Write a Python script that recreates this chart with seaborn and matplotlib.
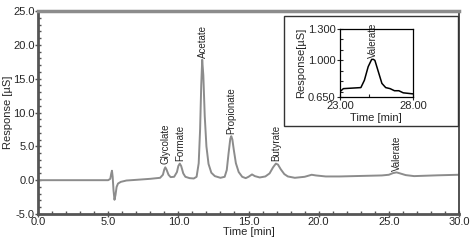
import numpy as np
import pandas as pd
import seaborn as sns
import matplotlib.pyplot as plt
from matplotlib.patches import Rectangle
from matplotlib.ticker import MultipleLocator, FixedLocator

# ------------------- Data -------------------
time_min = [0.0, 4.0, 5.0, 5.15, 5.22, 5.27, 5.32, 5.38, 5.45, 5.52, 5.6, 5.7, 5.9,
            6.3, 7.0, 8.0, 8.7, 8.9, 9.0, 9.07, 9.15, 9.3, 9.45, 9.7, 9.9, 10.0,
            10.1, 10.2, 10.35, 10.5, 10.8, 11.1, 11.3, 11.45, 11.55, 11.63, 11.7,
            11.78, 11.88, 12.0, 12.15, 12.35, 12.6, 13.0, 13.3, 13.45, 13.58, 13.7,
            13.77, 13.85, 13.95, 14.1, 14.3, 14.55, 14.8, 15.0, 15.25, 15.45, 15.8,
            16.2, 16.5, 16.75, 16.95, 17.1, 17.3, 17.55, 17.8, 18.3, 19.0, 19.5,
            19.8, 20.5, 21.5, 22.5, 23.5, 24.5, 25.0, 25.3, 25.55, 25.8, 26.2,
            26.8, 27.5, 28.5, 30.0]
response = [0.0, 0.0, 0.0, 0.2, 1.0, 1.4, 0.5, -1.5, -2.9, -2.2, -1.0, -0.5, -0.25,
            -0.05, 0.05, 0.2, 0.35, 0.8, 1.6, 1.9, 1.6, 0.8, 0.45, 0.5, 1.2, 2.1,
            2.45, 2.1, 1.0, 0.5, 0.3, 0.25, 0.5, 2.5, 7.5, 14.0, 17.8,
            15.5, 9.5, 5.0, 2.4, 1.1, 0.6, 0.35, 0.5, 1.5, 4.0, 6.1,
            6.5, 6.0, 4.5, 2.5, 1.2, 0.5, 0.3, 0.5, 0.85, 0.6, 0.4,
            0.55, 1.0, 1.9, 2.45, 2.3, 1.6, 0.9, 0.55, 0.35, 0.5, 0.8,
            0.7, 0.55, 0.55, 0.6, 0.65, 0.7, 0.8, 1.05, 1.15, 1.0, 0.75,
            0.6, 0.65, 0.72, 0.8]

peak_names = ['Glycolate', 'Formate', 'Acetate', 'Propionate', 'Butyrate', 'Valerate']
peak_times = [9.1, 10.12, 11.76, 13.8, 17.0, 25.6]
label_base = [2.4, 2.9, 18.0, 6.8, 2.8, 1.3]

# zoomed valerate region
inset_time = [23.0, 23.24, 24.44, 24.68, 24.94, 25.18, 25.3, 25.4, 25.64, 25.88,
              26.14, 26.44, 26.74, 27.04, 27.34, 28.0]
inset_resp = [0.70, 0.73, 0.74, 0.81, 0.94, 1.01, 1.01, 1.0, 0.89, 0.78,
              0.74, 0.73, 0.71, 0.71, 0.69, 0.68]

df = pd.DataFrame({'time': time_min, 'resp': response})
dfi = pd.DataFrame({'time': inset_time, 'resp': inset_resp})

# ------------------- Plot -------------------
sns.set_style('ticks')
plt.rcParams['font.family'] = ['Liberation Sans', 'DejaVu Sans']

fig = plt.figure(figsize=(4.74, 2.41), dpi=100)
ax = fig.add_axes([0.0802, 0.112, 0.8882, 0.8423])
sns.lineplot(data=df, x='time', y='resp', ax=ax, color='#8c8c8c', linewidth=1.4)

ax.set_xlim(0, 30)
ax.set_ylim(-5, 25)
ax.xaxis.set_major_locator(MultipleLocator(5))
ax.xaxis.set_minor_locator(MultipleLocator(1))
ax.yaxis.set_major_locator(MultipleLocator(5))
ax.yaxis.set_minor_locator(MultipleLocator(1))
ax.xaxis.set_major_formatter(lambda v, p: f'{v:.1f}')
ax.yaxis.set_major_formatter(lambda v, p: f'{v:.1f}')
ax.tick_params(which='both', bottom=True, left=True, top=False, right=False)
ax.tick_params(which='major', direction='inout', length=4, width=1, labelsize=8,
               color='#555555', pad=0.5)
ax.tick_params(which='minor', direction='in', length=2.5, width=1, color='#555555')
ax.set_xlabel('Time [min]', fontsize=8, labelpad=0)
ax.set_ylabel('Response [µS]', fontsize=8)
ax.yaxis.set_label_coords(-0.06, 0.5)

for side in ['left', 'bottom']:
    ax.spines[side].set_color('#555555')
    ax.spines[side].set_linewidth(2)
ax.spines['top'].set_color('#8c8c8c')
ax.spines['top'].set_linewidth(2.5)
ax.spines['right'].set_color('#444444')
ax.spines['right'].set_linewidth(1.3)

for name, t, b in zip(peak_names, peak_times, label_base):
    ax.text(t, b, name, rotation=90, ha='center', va='bottom', fontsize=7)

# inset frame
fig.patches.append(Rectangle((0.599, 0.477), 0.367, 0.456, transform=fig.transFigure,
                             fill=True, facecolor='white', edgecolor='#333333',
                             linewidth=1.0, zorder=2))

axi = fig.add_axes([0.717, 0.5975, 0.154, 0.282])
axi.set_zorder(3)
sns.lineplot(data=dfi, x='time', y='resp', ax=axi, color='black', linewidth=1.1)
axi.set_xlim(23, 28)
axi.set_ylim(0.65, 1.3)
axi.xaxis.set_major_locator(FixedLocator([23, 28]))
axi.xaxis.set_minor_locator(FixedLocator([25]))
axi.yaxis.set_major_locator(FixedLocator([0.65, 1.0, 1.3]))
axi.yaxis.set_minor_locator(MultipleLocator(0.1))
axi.xaxis.set_major_formatter(lambda v, p: f'{v:.2f}')
axi.yaxis.set_major_formatter(lambda v, p: f'{v:.3f}')
axi.tick_params(which='both', bottom=True, left=True, top=False, right=False)
axi.tick_params(which='major', direction='inout', length=4, width=0.8, labelsize=8, pad=1)
axi.tick_params(which='minor', direction='in', length=2.5, width=0.8)
axi.set_xlabel('Time [min]', fontsize=8, labelpad=1)
axi.set_ylabel('Response[µS]', fontsize=8, labelpad=1)
for s in axi.spines.values():
    s.set_color('black')
    s.set_linewidth(0.9)
axi.text(25.25, 1.02, 'Valerate', rotation=90, ha='center', va='bottom', fontsize=7)

fig.savefig('out.png', dpi=100)
